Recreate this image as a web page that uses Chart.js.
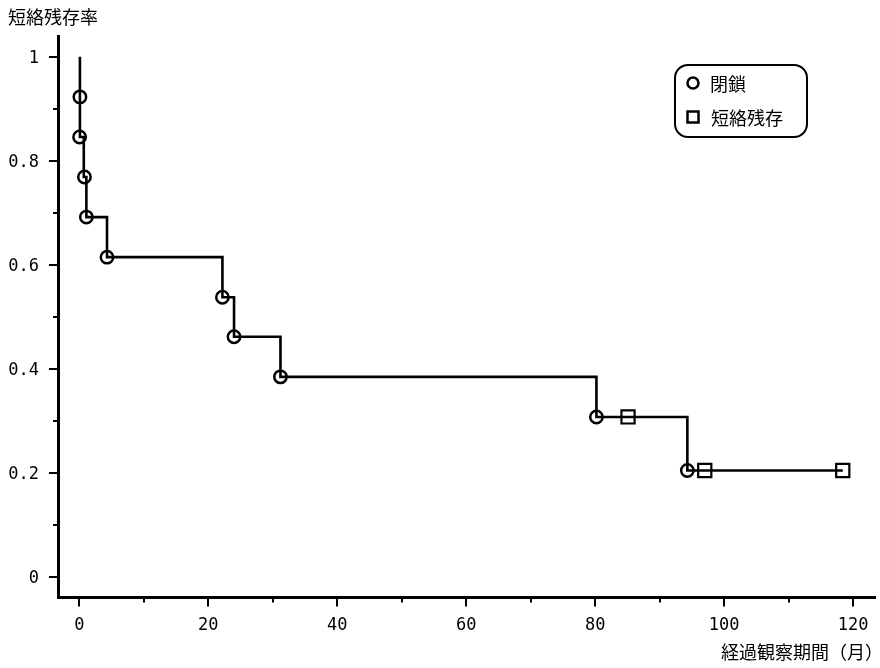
<!DOCTYPE html>
<html><head><meta charset="utf-8">
<script src="https://cdn.jsdelivr.net/npm/chart.js@4/dist/chart.umd.min.js"></script>
<style>html,body{margin:0;padding:0;background:#fff}</style>
</head><body>
<canvas id="c" width="880" height="668"></canvas>
<script>
const yTitle = '短絡残存率';
const xTitle = '経過観察期間（月）';
const legendLabels = ['閉鎖', '短絡残存'];
// Kaplan-Meier step curve
const curveTimes    = [0.1, 0.1,   0.1,   0.7,   1.1,   4.3,   22.2,  24.0,  31.2,  80.2,  94.3,  118.4];
const curveSurvival = [1.0, 0.923, 0.846, 0.769, 0.692, 0.615, 0.538, 0.462, 0.385, 0.308, 0.205, 0.205];
// events (closed)
const closedTimes    = [0.1,   0.05,  0.8,   1.1,   4.3,   22.2,  24.0,  31.2,  80.2,  94.3];
const closedSurvival = [0.923, 0.846, 0.769, 0.692, 0.615, 0.538, 0.462, 0.385, 0.308, 0.205];
// censored (shunt patent)
const patentTimes    = [85.1, 97.0, 118.4];
const patentSurvival = [0.308, 0.205, 0.205];
// ticks
const xTickValues = [0, 10, 20, 30, 40, 50, 60, 70, 80, 90, 100, 110, 120];
const xTickLabels = ['0', '', '20', '', '40', '', '60', '', '80', '', '100', '', '120'];
const yTickValues = [0, 0.1, 0.2, 0.3, 0.4, 0.5, 0.6, 0.7, 0.8, 0.9, 1.0];
const yTickLabels = ['0', '', '0.2', '', '0.4', '', '0.6', '', '0.8', '', '1'];

const JP = '"Noto Sans CJK JP", "Noto Sans", sans-serif';
const NUM = '"DejaVu Sans Mono", monospace';

const toXY = (xs, ys) => xs.map((x, i) => ({x: x, y: ys[i]}));

const tickPlugin = {
  id: 'customTicks',
  afterDraw(chart) {
    const ctx = chart.ctx, xs = chart.scales.x, ys = chart.scales.y;
    ctx.save();
    ctx.strokeStyle = '#000';
    ctx.lineWidth = 2;
    xTickValues.forEach((v, i) => {
      const px = Math.round(xs.getPixelForValue(v));
      const len = xTickLabels[i] ? 8 : 4;
      ctx.beginPath(); ctx.moveTo(px, xs.top + 1.5); ctx.lineTo(px, xs.top + 1.5 + len); ctx.stroke();
    });
    yTickValues.forEach((v, i) => {
      const py = Math.round(ys.getPixelForValue(v));
      const len = yTickLabels[i] ? 9 : 5;
      ctx.beginPath(); ctx.moveTo(ys.right, py); ctx.lineTo(ys.right - len, py); ctx.stroke();
    });
    // x axis title, right-aligned under the axis end
    ctx.fillStyle = '#000';
    ctx.font = '18px ' + JP;
    ctx.textAlign = 'right';
    ctx.textBaseline = 'middle';
    ctx.fillText(xTitle, xs.right + 8, 652);
    ctx.restore();
  }
};

const legendPlugin = {
  id: 'boxLegend',
  afterDraw(chart) {
    const ctx = chart.ctx;
    ctx.save();
    const l = 675, t = 65, w = 132, h = 72, r = 13;
    ctx.lineWidth = 2; ctx.strokeStyle = '#000';
    ctx.beginPath();
    ctx.roundRect(l, t, w, h, r);
    ctx.stroke();
    ctx.lineWidth = 2.5;
    ctx.beginPath(); ctx.arc(693, 83, 5.5, 0, Math.PI * 2); ctx.stroke();
    ctx.strokeRect(687.5, 111.5, 11, 11);
    ctx.fillStyle = '#000';
    ctx.font = '18px ' + JP;
    ctx.textBaseline = 'middle';
    ctx.textAlign = 'left';
    ctx.fillText(legendLabels[0], 710, 84);
    ctx.fillText(legendLabels[1], 711, 118);
    ctx.restore();
  }
};

new Chart(document.getElementById('c'), {
  data: {
    datasets: [
      {
        type: 'line', label: 'curve', data: toXY(curveTimes, curveSurvival),
        stepped: 'before', borderColor: '#000', borderWidth: 2.6, pointRadius: 0, fill: false, order: 3
      },
      {
        type: 'scatter', label: legendLabels[0], data: toXY(closedTimes, closedSurvival),
        pointStyle: 'circle', pointRadius: 6.2, borderColor: '#000', borderWidth: 2.5,
        backgroundColor: 'rgba(0,0,0,0)', order: 1
      },
      {
        type: 'scatter', label: legendLabels[1], data: toXY(patentTimes, patentSurvival),
        pointStyle: 'rect', pointRadius: 9.3, borderColor: '#000', borderWidth: 2.2,
        backgroundColor: 'rgba(0,0,0,0)', order: 2
      }
    ]
  },
  options: {
    responsive: false,
    animation: false,
    devicePixelRatio: 1,
    events: [],
    clip: false,
    layout: { autoPadding: false, padding: { left: 8, right: 5, top: 0, bottom: 0 } },
    plugins: {
      legend: { display: false },
      tooltip: { enabled: false },
      title: {
        display: true, text: yTitle, align: 'start', color: '#000',
        font: { family: JP, size: 18, weight: 'normal' },
        padding: { top: 6.5, bottom: 7.9 }
      }
    },
    scales: {
      x: {
        type: 'linear', position: 'bottom', min: -3.3, max: 123.4,
        afterBuildTicks: s => { s.ticks = xTickValues.map(v => ({value: v})); },
        afterFit: s => { s.height = 71; },
        ticks: {
          autoSkip: false, maxRotation: 0, padding: 0, color: '#000',
          font: { family: NUM, size: 17, lineHeight: '58px' },
          callback: (v, i) => xTickLabels[i]
        },
        grid: { display: true, drawOnChartArea: false, drawTicks: false },
        border: { display: true, color: '#000', width: 3 }
      },
      y: {
        type: 'linear', position: 'left', min: -0.038, max: 1.04,
        afterBuildTicks: s => { s.ticks = yTickValues.map(v => ({value: v})); },
        afterFit: s => { s.width = 50; },
        ticks: {
          autoSkip: false, padding: 19, labelOffset: 1.5, color: '#000',
          font: { family: NUM, size: 17 },
          callback: (v, i) => yTickLabels[i]
        },
        grid: { display: true, drawOnChartArea: false, drawTicks: false },
        border: { display: true, color: '#000', width: 3 }
      }
    }
  },
  plugins: [tickPlugin, legendPlugin]
});
</script>
</body></html>
